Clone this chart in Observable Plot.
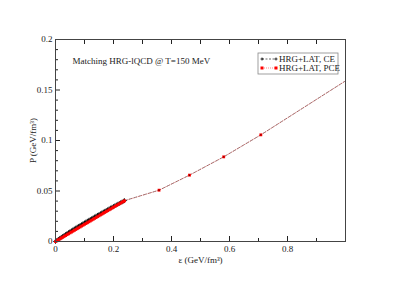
<!DOCTYPE html>
<html><head><meta charset="utf-8">
<script src="https://cdn.jsdelivr.net/npm/d3@7"></script>
<script src="https://cdn.jsdelivr.net/npm/@observablehq/plot@0.6"></script>
<style>body{margin:0;background:#fff}#chart{width:399px;height:282px}</style>
</head><body><div id="chart"></div>
<script>
// Dense low-energy part (ε in GeV/fm³, P in GeV/fm³)
const denseEps = [
  0.000, 0.005, 0.010, 0.015, 0.020, 0.025, 0.030, 0.035, 0.040, 0.045,
  0.050, 0.055, 0.060, 0.065, 0.070, 0.075, 0.080, 0.085, 0.090, 0.095,
  0.100, 0.105, 0.110, 0.115, 0.120, 0.125, 0.130, 0.135, 0.140, 0.145,
  0.150, 0.155, 0.160, 0.165, 0.170, 0.175, 0.180, 0.185, 0.190, 0.195,
  0.200, 0.205, 0.210, 0.215, 0.220, 0.225, 0.230, 0.235, 0.238];
const ceDenseP = [
  0.0000, 0.0012, 0.0022, 0.0032, 0.0042, 0.0051, 0.0061, 0.0070, 0.0080, 0.0089,
  0.0098, 0.0107, 0.0116, 0.0125, 0.0134, 0.0143, 0.0151, 0.0160, 0.0168, 0.0177,
  0.0185, 0.0194, 0.0202, 0.0211, 0.0219, 0.0227, 0.0235, 0.0244, 0.0252, 0.0260,
  0.0268, 0.0276, 0.0284, 0.0292, 0.0300, 0.0308, 0.0316, 0.0324, 0.0332, 0.0340,
  0.0347, 0.0355, 0.0362, 0.0370, 0.0377, 0.0385, 0.0392, 0.0400, 0.0405];
const pceDenseP = [
  0.0000, 0.0008, 0.0017, 0.0025, 0.0034, 0.0042, 0.0051, 0.0059, 0.0068, 0.0076,
  0.0085, 0.0093, 0.0102, 0.0110, 0.0119, 0.0127, 0.0136, 0.0144, 0.0153, 0.0161,
  0.0170, 0.0178, 0.0186, 0.0195, 0.0203, 0.0212, 0.0220, 0.0229, 0.0237, 0.0246,
  0.0254, 0.0263, 0.0271, 0.0280, 0.0288, 0.0297, 0.0305, 0.0314, 0.0322, 0.0331,
  0.0339, 0.0348, 0.0356, 0.0365, 0.0373, 0.0381, 0.0390, 0.0398, 0.0403];
// Shared lattice part
const tailEps = [0.357, 0.462, 0.580, 0.708, 1.0];
const tailP   = [0.0508, 0.0657, 0.0838, 0.1056, 0.159];

const xMajor = [0, 0.2, 0.4, 0.6, 0.8];
const xMajorLabels = ["0", "0.2", "0.4", "0.6", "0.8"];
const xMinor = [0.1, 0.3, 0.5, 0.7, 0.9];
const yMajor = [0, 0.05, 0.1, 0.15, 0.2];
const yMajorLabels = ["0", "0.05", "0.1", "0.15", "0.2"];
const yMinor = [0.01,0.02,0.03,0.04,0.06,0.07,0.08,0.09,0.11,0.12,0.13,0.14,0.16,0.17,0.18,0.19];

const titleText = "Matching HRG-lQCD @ T=150 MeV";
const legendLabels = ["HRG+LAT, CE", "HRG+LAT, PCE"];

const ceDense = denseEps.map((e, i) => ({e, p: ceDenseP[i]}));
const pceDense = denseEps.map((e, i) => ({e, p: pceDenseP[i]}));
const tail = tailEps.map((e, i) => ({e, p: tailP[i]}));
const tailMarked = tail.filter(d => d.e < 1);
const ce = ceDense.concat(tail);
const pce = pceDense.concat(tail);

const plot = Plot.plot({
  width: 399, height: 282,
  marginLeft: 55, marginRight: 54, marginTop: 39, marginBottom: 41,
  style: {fontFamily: "Liberation Serif", fontSize: "9px", color: "#222", background: "#fff"},
  x: {domain: [0, 1]},
  y: {domain: [0, 0.2]},
  marks: [
    Plot.axisX({ticks: xMajor, tickSize: -5, tickPadding: 9, tickFormat: (d, i) => xMajorLabels[i],
      label: "ε (GeV/fm³)", labelAnchor: "center", labelOffset: 21, labelArrow: "none"}),
    Plot.axisX({ticks: xMinor, tickSize: -3, tickFormat: () => "", label: null}),
    Plot.axisX({anchor: "top", ticks: xMajor.concat(xMinor), tickSize: -4, tickFormat: () => "", label: null}),
    Plot.axisY({ticks: yMajor, tickSize: -5, tickPadding: 8, tickFormat: (d, i) => yMajorLabels[i],
      label: "P (GeV/fm³)", labelAnchor: "center", labelOffset: 26, labelArrow: "none"}),
    Plot.axisY({ticks: yMinor, tickSize: -3, tickFormat: () => "", label: null}),
    Plot.line(ce, {x: "e", y: "p", stroke: "#000", strokeWidth: 0.5, strokeDasharray: "3,2", strokeOpacity: 0.8}),
    Plot.line(pce, {x: "e", y: "p", stroke: "#d00", strokeWidth: 0.6, strokeDasharray: "1,1.5", strokeOpacity: 0.6}),
    Plot.dot(ceDense, {x: "e", y: "p", symbol: "plus", r: 1.6, stroke: "#000", strokeWidth: 0.9}),
    Plot.dot(pceDense.concat(tailMarked), {x: "e", y: "p", symbol: "square", r: 1.6, fill: "#f00", stroke: null}),
    Plot.dot(tailMarked, {x: "e", y: "p", r: 0.6, fill: "#300", stroke: null}),
    Plot.text([titleText], {frameAnchor: "top-left", dx: 17, dy: 18, textAnchor: "start", fontSize: 9, fill: "#222"}),
    Plot.frame({stroke: "#444", strokeWidth: 1})
  ]
});
document.getElementById("chart").appendChild(plot);

// legend box
const svg = d3.select(plot);
const lg = svg.append("g").attr("transform", "translate(258,53)").attr("text-anchor", "start");
lg.append("rect").attr("x", 0).attr("y", 0).attr("width", 80).attr("height", 21)
  .attr("fill", "#fff").attr("stroke", "#888").attr("stroke-width", 0.8);
lg.append("line").attr("x1", 4).attr("x2", 18).attr("y1", 6).attr("y2", 6)
  .attr("stroke", "#000").attr("stroke-width", 0.6).attr("stroke-dasharray", "2,1.5");
lg.append("path").attr("d", "M2.5,6h3M4,4.5v3M16.5,6h3M18,4.5v3").attr("fill", "none")
  .attr("stroke", "#000").attr("stroke-width", 0.8);
lg.append("line").attr("x1", 4).attr("x2", 18).attr("y1", 15).attr("y2", 15)
  .attr("stroke", "#f00").attr("stroke-width", 0.8).attr("stroke-dasharray", "1,1").attr("stroke-opacity", 0.6);
lg.append("rect").attr("x", 2.5).attr("y", 13.5).attr("width", 3).attr("height", 3).attr("fill", "#f00").attr("stroke", "none");
lg.append("rect").attr("x", 16.5).attr("y", 13.5).attr("width", 3).attr("height", 3).attr("fill", "#f00").attr("stroke", "none");
legendLabels.forEach((t, i) => {
  lg.append("text").attr("x", 21).attr("y", 6 + i * 9).attr("dy", "0.35em")
    .attr("text-anchor", "start").attr("font-family", "Liberation Serif").attr("font-size", 9)
    .attr("fill", "#222").attr("stroke", "none").text(t);
});
</script></body></html>
